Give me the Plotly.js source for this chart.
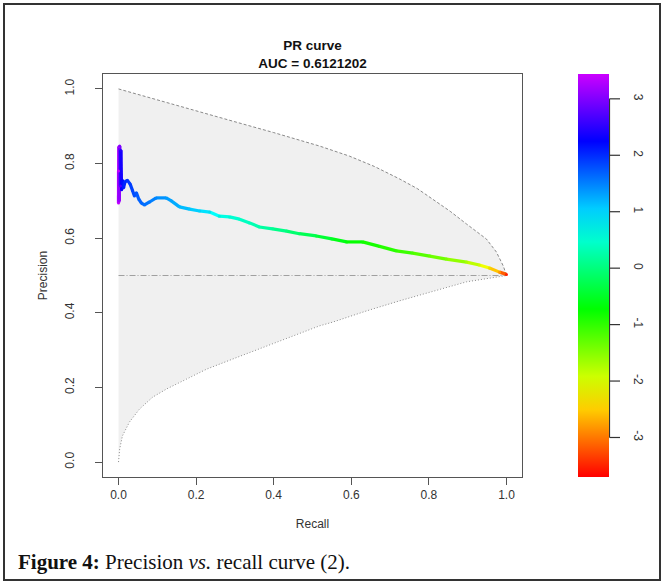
<!DOCTYPE html>
<html>
<head>
<meta charset="utf-8">
<script src="https://cdn.plot.ly/plotly-3.0.1.min.js"></script>
<style>html,body{margin:0;padding:0;background:#fff;}#chart{width:663px;height:582px;}</style>
</head>
<body>
<div id="chart"></div>
<script>
// ---- data ----
const recall = [0.000,0.000,0.001,0.002,0.003,0.005,0.006,0.008,0.010,0.013,0.017,0.023,0.030,0.036,0.041,0.046,0.052,0.059,0.067,0.080,0.097,0.123,0.136,0.157,0.183,0.209,0.235,0.260,0.286,0.312,0.338,0.363,0.397,0.433,0.466,0.510,0.550,0.588,0.629,0.673,0.716,0.758,0.802,0.845,0.897,0.930,0.956,0.982,1.000];
const precision = [0.780,0.694,0.845,0.700,0.847,0.740,0.835,0.730,0.755,0.735,0.752,0.755,0.745,0.728,0.713,0.722,0.705,0.694,0.689,0.697,0.708,0.708,0.700,0.684,0.678,0.673,0.670,0.659,0.657,0.651,0.641,0.630,0.625,0.619,0.612,0.606,0.598,0.590,0.590,0.578,0.566,0.560,0.552,0.544,0.536,0.528,0.520,0.509,0.503];
const score = [3.40,3.35,3.25,3.15,3.00,2.70,2.45,2.30,2.20,2.10,2.00,1.95,1.90,1.85,1.80,1.75,1.70,1.65,1.60,1.55,1.45,1.35,1.30,1.20,1.10,1.00,0.85,0.65,0.55,0.45,0.35,0.27,0.15,0.00,-0.15,-0.35,-0.50,-0.70,-0.80,-0.90,-1.00,-1.15,-1.30,-1.45,-1.70,-1.95,-2.30,-2.80,-3.50];

const maxRecall = [0,0.1,0.209,0.3,0.4,0.466,0.518,0.595,0.66,0.724,0.77,0.809,0.855,0.897,0.925,0.948,0.974,0.992,1.0];
const maxPrecision = [1.0,0.97,0.938,0.912,0.883,0.863,0.847,0.820,0.792,0.759,0.733,0.705,0.672,0.638,0.617,0.598,0.563,0.525,0.5];
const minRecall = [0,0.003,0.01,0.028,0.054,0.088,0.124,0.175,0.227,0.294,0.381,0.448,0.518,0.552,0.639,0.724,0.809,0.897,1.0];
const minPrecision = [0,0.035,0.07,0.107,0.142,0.174,0.196,0.223,0.249,0.276,0.311,0.338,0.365,0.375,0.405,0.432,0.458,0.483,0.5];

const baseRecall = [0, 1];
const basePrecision = [0.5, 0.5];

const axisTicks = [0, 0.2, 0.4, 0.6, 0.8, 1.0];
const axisTickText = ['0.0','0.2','0.4','0.6','0.8','1.0'];
const cbTicks = [-3,-2,-1,0,1,2,3];
const cbTickText = ['-3','-2','-1','0','1','2','3'];
const scoreMin = -3.70, scoreMax = 3.44;

const titleText = '<b>PR curve</b><br><b>AUC = 0.6121202</b>';
const xLabel = 'Recall';
const yLabel = 'Precision';
const captionText = '<b>Figure 4:</b> Precision <i>vs.</i> recall curve (2).';

// ---- geometry ----
const W = 663, H = 582;
const PL = 103, PR = 522, PT = 74, PB = 477;
const px2x = px => (px - PL) / (PR - PL);
const py2y = py => (PB - py) / (PB - PT);

const HUE_MAX = 288;
function hueColor(s) {
  let f = (s - scoreMin) / (scoreMax - scoreMin);
  f = Math.max(0, Math.min(1, f));
  return 'hsl(' + (HUE_MAX * f).toFixed(1) + ',100%,50%)';
}
const colorscale = [];
for (let i = 0; i <= 12; i++) colorscale.push([i / 12, 'hsl(' + (HUE_MAX * i / 12).toFixed(1) + ',100%,50%)']);

const traces = [];
// grey band between min and max curves
traces.push({
  x: maxRecall.concat(minRecall.slice().reverse()),
  y: maxPrecision.concat(minPrecision.slice().reverse()),
  mode: 'lines', fill: 'toself', fillcolor: '#f0f0f0',
  line: {width: 0, color: 'rgba(0,0,0,0)'}, hoverinfo: 'skip'
});
traces.push({x: maxRecall, y: maxPrecision, mode: 'lines', line: {color: '#8a8a8a', width: 1, dash: '3px,2px'}, hoverinfo: 'skip'});
traces.push({x: minRecall, y: minPrecision, mode: 'lines', line: {color: '#8a8a8a', width: 1, dash: '1px,2px'}, hoverinfo: 'skip'});
traces.push({x: baseRecall, y: basePrecision, mode: 'lines', line: {color: '#a0a0a0', width: 1, dash: '6px,2px,1px,2px'}, hoverinfo: 'skip'});

// coloured curve segments
for (let i = 0; i < recall.length - 1; i++) {
  traces.push({
    x: [recall[i], recall[i+1]], y: [precision[i], precision[i+1]],
    mode: 'lines', line: {color: hueColor((score[i] + score[i+1]) / 2), width: 3.2},
    hoverinfo: 'skip'
  });
}
// markers carrying the colour scale
traces.push({
  x: recall, y: precision, mode: 'markers',
  marker: {
    size: 3, color: score, colorscale: colorscale, cmin: scoreMin, cmax: scoreMax,
    showscale: true,
    colorbar: {
      x: px2x(578), xanchor: 'left', xref: 'paper', xpad: 0, ypad: 0,
      y: 0.5, yanchor: 'middle', len: 1, lenmode: 'fraction',
      thickness: 31, thicknessmode: 'pixels', outlinewidth: 0,
      tickmode: 'array', tickvals: cbTicks, ticktext: cbTickText,
      ticks: 'outside', ticklen: 21, tickcolor: 'rgba(0,0,0,0)', tickwidth: 1,
      tickangle: 90,
      tickfont: {family: 'Liberation Sans, Arial, sans-serif', size: 12, color: '#333'}
    }
  },
  hoverinfo: 'skip'
});

const axisCommon = {
  range: [-0.04, 1.04], showgrid: false, zeroline: false,
  showline: true, mirror: true, linecolor: '#555', linewidth: 1,
  ticks: 'outside', ticklen: 7, tickcolor: '#555', tickwidth: 1,
  tickmode: 'array', tickvals: axisTicks, ticktext: axisTickText,
  tickfont: {family: 'Liberation Sans, Arial, sans-serif', size: 12, color: '#333'},
  fixedrange: true
};

const fCb = v => (v - scoreMin) / (scoreMax - scoreMin);

const shapes = [
  {type: 'rect', xref: 'paper', yref: 'paper', x0: px2x(4), x1: px2x(660), y0: py2y(4), y1: py2y(580),
   line: {color: '#333', width: 2}, fillcolor: 'rgba(0,0,0,0)', layer: 'above'},
  {type: 'line', xref: 'paper', yref: 'paper', x0: px2x(609.5), x1: px2x(609.5), y0: fCb(cbTicks[0]), y1: fCb(cbTicks[cbTicks.length-1]),
   line: {color: '#333', width: 1.2}, layer: 'above'}
];
cbTicks.forEach(v => shapes.push({
  type: 'line', xref: 'paper', yref: 'paper', x0: px2x(609.5), x1: px2x(620), y0: fCb(v), y1: fCb(v),
  line: {color: '#333', width: 1.2}, layer: 'above'
}));

const layout = {
  width: W, height: H,
  margin: {l: PL, r: W - PR, t: PT, b: H - PB, pad: 0},
  paper_bgcolor: '#fff', plot_bgcolor: '#fff', showlegend: false,
  title: {
    text: titleText, x: 0.5, xref: 'paper', xanchor: 'center',
    y: 1 - 50 / H, yref: 'container', yanchor: 'middle',
    font: {family: 'Liberation Sans, Arial, sans-serif', size: 13.5, color: '#111'}
  },
  xaxis: Object.assign({}, axisCommon, {
    title: {text: xLabel, standoff: 18, font: {family: 'Liberation Sans, Arial, sans-serif', size: 12, color: '#333'}}
  }),
  yaxis: Object.assign({}, axisCommon, {
    tickangle: -90, ticklabelstandoff: 16,
    title: {text: yLabel, standoff: 13, font: {family: 'Liberation Sans, Arial, sans-serif', size: 12, color: '#333'}}
  }),
  shapes: shapes,
  annotations: [
    {text: captionText, xref: 'paper', yref: 'paper', x: px2x(16), y: py2y(562),
     xanchor: 'left', yanchor: 'middle', showarrow: false,
     font: {family: 'Liberation Serif, Times New Roman, serif', size: 21, color: '#111'}}
  ]
};

Plotly.newPlot('chart', traces, layout, {staticPlot: true, displayModeBar: false});
</script>
</body>
</html>
